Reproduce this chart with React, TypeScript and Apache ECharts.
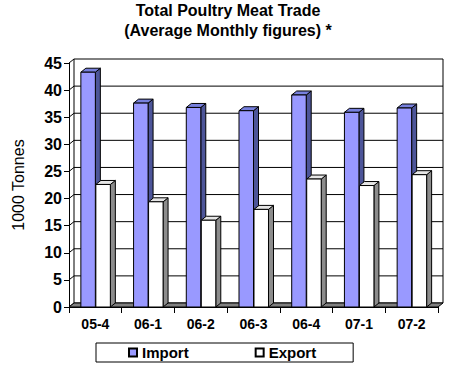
import React, { useEffect, useRef } from "react";
import * as echarts from "echarts";

const categories = ["05-4", "06-1", "06-2", "06-3", "06-4", "07-1", "07-2"];
const importValues = [43.3, 37.6, 36.8, 36.2, 39.1, 35.9, 36.7];
const exportValues = [22.6, 19.4, 16.0, 18.0, 23.6, 22.4, 24.4];
const yMin = 0;
const yMax = 45;
const yStep = 5;
const titleLines = ["Total Poultry Meat Trade", "(Average Monthly figures) *"];

const FONT = "Arial, 'Liberation Sans', sans-serif";
const DX = 5;
const DY = 4;

const importColors = { front: "#9999FF", side: "#4D5599", top: "#7780DD" };
const exportColors = { front: "#FFFFFF", side: "#8C8C8C", top: "#E6E6E6" };

function barRender(slot: number, colors: { front: string; side: string; top: string }) {
  return (params: any, api: any) => {
    const idx = api.value(0);
    const val = api.value(1);
    const base = api.coord([idx, 0]);
    const top = api.coord([idx, val]);
    const w = api.size([1, 0])[0];
    const bw = w * 0.275;
    const x0 = slot === 0 ? base[0] - bw : base[0] + 0.5;
    const x1 = x0 + bw;
    const yb = base[1];
    const yt = top[1];
    const st = { stroke: "#000", lineWidth: 1 };
    return {
      type: "group",
      children: [
        {
          type: "polygon",
          shape: { points: [[x1, yb], [x1 + DX, yb - DY], [x1 + DX, yt - DY], [x1, yt]] },
          style: { fill: colors.side, ...st },
        },
        {
          type: "polygon",
          shape: { points: [[x0, yt], [x0 + DX, yt - DY], [x1 + DX, yt - DY], [x1, yt]] },
          style: { fill: colors.top, ...st },
        },
        {
          type: "rect",
          shape: { x: x0, y: yt, width: bw, height: yb - yt },
          style: { fill: colors.front, ...st },
        },
      ],
    };
  };
}

function frameRender(params: any, api: any) {
  const n = categories.length;
  const w = api.size([1, 0])[0];
  const xL = api.coord([0, 0])[0] - w / 2;
  const xR = api.coord([n - 1, 0])[0] + w / 2;
  const y0 = api.coord([0, yMin])[1];
  const yT = api.coord([0, yMax])[1];
  const children: any[] = [];
  const ln = { stroke: "#000", lineWidth: 1 };
  for (let v = yMin; v <= yMax; v += yStep) {
    const y = api.coord([0, v])[1];
    children.push({ type: "line", shape: { x1: xL + DX, y1: y - DY, x2: xR + DX, y2: y - DY }, style: ln });
    children.push({ type: "line", shape: { x1: xL, y1: y, x2: xL + DX, y2: y - DY }, style: ln });
  }
  children.push({ type: "line", shape: { x1: xL + DX, y1: yT - DY, x2: xL + DX, y2: y0 - DY }, style: ln });
  children.push({ type: "line", shape: { x1: xR + DX, y1: yT - DY, x2: xR + DX, y2: y0 - DY }, style: ln });
  children.push({
    type: "polygon",
    shape: { points: [[xL, y0], [xR, y0], [xR + DX, y0 - DY], [xL + DX, y0 - DY]] },
    style: { fill: "#808080", stroke: "#000", lineWidth: 1 },
  });
  return { type: "group", children };
}

export default function App() {
  const ref = useRef<HTMLDivElement>(null);
  useEffect(() => {
    if (!ref.current) return;
    const chart = echarts.init(ref.current, null, { renderer: "svg" });
    const titleStyle = { fontFamily: FONT, fontSize: 16, fontWeight: "bold", color: "#000" };
    chart.setOption({
      animation: false,
      backgroundColor: "#fff",
      title: [
        { text: titleLines[0], left: 228, top: 2, padding: 0, textAlign: "center", textStyle: titleStyle },
        { text: titleLines[1], left: 228, top: 22, padding: 0, textAlign: "center", textStyle: titleStyle },
      ],
      legend: {
        data: ["Import", "Export"],
        left: 96,
        top: 343,
        icon: "rect",
        itemWidth: 8,
        itemHeight: 8,
        itemGap: 66,
        padding: [2, 37, 2, 32],
        borderColor: "#000",
        borderWidth: 1,
        textStyle: { fontFamily: FONT, fontSize: 15, fontWeight: "bold", color: "#000" },
      },
      grid: { left: 69, right: 37, top: 63, bottom: 67 },
      xAxis: {
        type: "category",
        data: categories,
        axisLine: { lineStyle: { color: "#000" } },
        axisTick: { show: true, length: 6, lineStyle: { color: "#000" } },
        axisLabel: { fontFamily: FONT, fontSize: 14, fontWeight: "bold", color: "#000", margin: 10 },
      },
      yAxis: {
        type: "value",
        min: yMin,
        max: yMax,
        interval: yStep,
        name: "1000 Tonnes",
        nameLocation: "middle",
        nameGap: 43,
        nameTextStyle: { fontFamily: FONT, fontSize: 16, fontWeight: "normal", color: "#000" },
        axisLine: { show: true, lineStyle: { color: "#000" } },
        axisTick: { show: true, length: 5, lineStyle: { color: "#000" } },
        axisLabel: { fontFamily: FONT, fontSize: 16, fontWeight: "bold", color: "#000", margin: 7 },
        splitLine: { show: false },
      },
      series: [
        {
          type: "custom",
          name: "frame",
          data: [[0, 0]],
          encode: { x: 0, y: 1 },
          renderItem: frameRender,
          z: 1,
          silent: true,
        },
        {
          type: "custom",
          name: "Import",
          data: importValues.map((v, i) => [i, v]),
          encode: { x: 0, y: 1 },
          renderItem: barRender(0, importColors),
          itemStyle: { color: importColors.front, borderColor: "#000", borderWidth: 1 },
          z: 2,
        },
        {
          type: "custom",
          name: "Export",
          data: exportValues.map((v, i) => [i, v]),
          encode: { x: 0, y: 1 },
          renderItem: barRender(1, exportColors),
          itemStyle: { color: exportColors.front, borderColor: "#000", borderWidth: 1 },
          z: 3,
        },
      ],
    });
    return () => chart.dispose();
  }, []);
  return (
    <div
      ref={ref}
      style={{ position: "absolute", left: 0, top: 0, width: 475, height: 374 }}
    />
  );
}
